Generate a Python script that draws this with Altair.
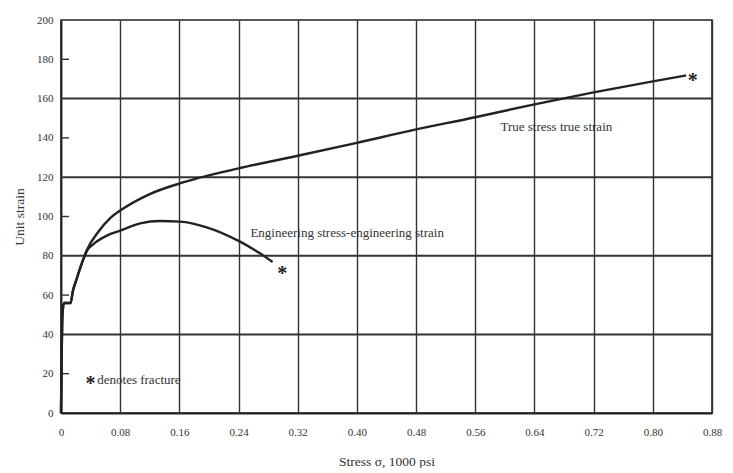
import altair as alt
import pandas as pd

# ---- data ----
eng_x = [0, 0.002, 0.004, 0.013, 0.016, 0.021, 0.028, 0.035, 0.045, 0.062, 0.08,
         0.107, 0.134, 0.161, 0.197, 0.242, 0.27, 0.286]
eng_y = [0, 50, 56, 56, 62, 68, 76, 82.5, 86.3, 90.3, 92.8,
         96.5, 97.7, 97.4, 94.5, 87.2, 81, 76.8]

true_x = [0, 0.002, 0.004, 0.013, 0.016, 0.021, 0.028, 0.035, 0.05, 0.0665, 0.08,
          0.12, 0.16, 0.24, 0.32, 0.40, 0.48, 0.56, 0.64, 0.72, 0.80, 0.845]
true_y = [0, 50, 56, 56, 62, 68, 76, 83, 92, 99.2, 103,
          111.4, 116.8, 124.5, 130.9, 137.5, 144.3, 150.5, 157.1, 163.2, 168.8, 171.8]

x_ticks = [0, 0.08, 0.16, 0.24, 0.32, 0.40, 0.48, 0.56, 0.64, 0.72, 0.80, 0.88]
y_ticks = [0, 20, 40, 60, 80, 100, 120, 140, 160, 180, 200]
h_grid = [40, 80, 120, 160]
minor_y = [20, 60, 100, 140, 180]

fracture_x = [0.299, 0.854]
fracture_y = [72.9, 171]

labels_text = ["Engineering stress-engineering strain", "True stress true strain",
               "denotes fracture"]
labels_x = [0.256, 0.594, 0.049]
labels_y = [91.7, 145.5, 16.9]

note_star_x = [0.04]
note_star_y = [16.9]

FONT = "Liberation Serif"
INK = "#222222"

xs = alt.Scale(domain=[0, 0.88], nice=False, zero=False)
ys = alt.Scale(domain=[0, 200], nice=False)

eng_df = pd.DataFrame({"x": eng_x, "y": eng_y, "i": range(len(eng_x))})
true_df = pd.DataFrame({"x": true_x, "y": true_y, "i": range(len(true_x))})

x_axis = alt.Axis(values=x_ticks, title="Stress σ, 1000 psi",
                  labelExpr="datum.value == 0 ? '0' : format(datum.value, '.2f')",
                  grid=True, gridColor="#333333", gridWidth=1.4, ticks=False,
                  labelOverlap=False, labelFlush=False,
                  labelPadding=13, titlePadding=17, domainColor=INK, domainWidth=2.2)
y_axis = alt.Axis(values=y_ticks, title="Unit strain", grid=False, ticks=False,
                  labelOverlap=False, labelFlush=False,
                  labelPadding=8, titlePadding=10, domainColor=INK, domainWidth=1.6)


def X(field):
    return alt.X(field, scale=xs, axis=x_axis)


def Y(field):
    return alt.Y(field, scale=ys, axis=y_axis)


hgrid = alt.Chart(pd.DataFrame({"y": h_grid})).mark_rule(color="#333333", strokeWidth=2).encode(
    y=Y("y:Q")
)

minor = alt.Chart(pd.DataFrame({"y": minor_y})).mark_rule(color="#333333", strokeWidth=1.4).encode(
    y=Y("y:Q"), x=alt.value(0), x2=alt.value(8)
)

eng = alt.Chart(eng_df).mark_line(color=INK, strokeWidth=2.4, interpolate="monotone").encode(
    x=X("x:Q"), y=Y("y:Q"), order="i:Q"
)

true = alt.Chart(true_df).mark_line(color=INK, strokeWidth=2.4, interpolate="monotone").encode(
    x=X("x:Q"), y=Y("y:Q"), order="i:Q"
)

fract = alt.Chart(pd.DataFrame({"x": fracture_x + note_star_x, "y": fracture_y + note_star_y})).mark_text(
    text="*", font=FONT, fontSize=20, fontWeight="bold", color=INK, baseline="middle", dy=4
).encode(x=X("x:Q"), y=Y("y:Q"))

labels = alt.Chart(pd.DataFrame({"t": labels_text, "x": labels_x, "y": labels_y})).mark_text(
    font=FONT, fontSize=13, color="#333333", align="left", baseline="middle"
).encode(x=X("x:Q"), y=Y("y:Q"), text="t:N")

chart = alt.layer(hgrid, minor, eng, true, fract, labels).properties(
    width=651, height=393,
    autosize=alt.AutoSizeParams(type="none"),
    padding={"left": 53, "top": 12, "right": 10, "bottom": 55},
).configure_view(stroke=INK, strokeWidth=1.6).configure_axis(
    labelFont=FONT, labelFontSize=11, labelColor="#333333",
    titleFont=FONT, titleFontSize=13.5, titleColor="#333333", titleFontWeight="normal"
)

chart.save("out.html", embed_options={"renderer": "svg", "actions": False})
